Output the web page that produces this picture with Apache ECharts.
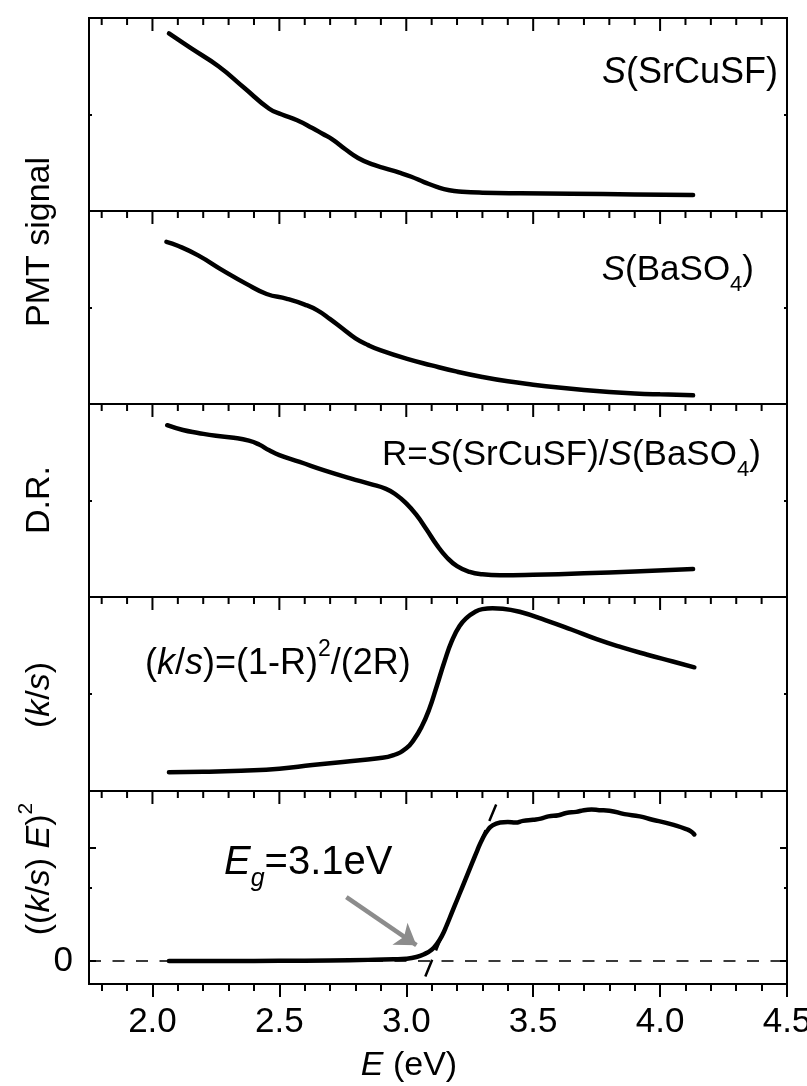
<!DOCTYPE html>
<html>
<head>
<meta charset="utf-8">
<script src="https://cdn.jsdelivr.net/npm/echarts@6/dist/echarts.min.js"></script>
<style>
  html, body { margin: 0; padding: 0; background: #fff; }
  #chart { width: 807px; height: 1086px; }
</style>
</head>
<body>
<div id="chart"></div>
<script>
// ---- shared energy axis ----
const xMajorTicks = [2.0, 2.5, 3.0, 3.5, 4.0, 4.5];
const xTickLabels = ['2.0', '2.5', '3.0', '3.5', '4.0', '4.5'];
const xMinorTicks = [1.8, 1.9, 2.1, 2.2, 2.3, 2.4, 2.6, 2.7, 2.8, 2.9, 3.1, 3.2, 3.3, 3.4,
                     3.6, 3.7, 3.8, 3.9, 4.1, 4.2, 4.3, 4.4];
const X_MIN = 1.75, X_MAX = 4.5;
const X_MAJOR_START = 2.0, X_MAJOR_STEP = 0.5;
const X_MINOR_START = 1.8, X_MINOR_STEP = 0.1;

// ---- panel 1: S(SrCuSF) ----
const srcusfE = [2.065, 2.15, 2.26, 2.36, 2.46, 2.51, 2.57, 2.63, 2.67, 2.71, 2.76, 2.81, 2.87,
                 2.92, 2.97, 3.02, 3.07, 3.12, 3.17, 3.22, 3.30, 3.45, 3.65, 3.90, 4.13];
const srcusfS = [1.84, 1.69, 1.50, 1.28, 1.06, 1.00, 0.94, 0.86, 0.80, 0.74, 0.64, 0.55, 0.48,
                 0.44, 0.40, 0.355, 0.30, 0.25, 0.215, 0.20, 0.19, 0.183, 0.178, 0.172, 0.166];

// ---- panel 2: S(BaSO4) ----
const baso4E = [2.055, 2.10, 2.18, 2.28, 2.37, 2.45, 2.53, 2.60, 2.65, 2.70, 2.75, 2.80, 2.85,
                2.90, 3.0, 3.1, 3.2, 3.3, 3.4, 3.5, 3.6, 3.7, 3.8, 3.9, 4.0, 4.13];
const baso4S = [1.68, 1.64, 1.54, 1.38, 1.245, 1.14, 1.09, 1.03, 0.97, 0.88, 0.78, 0.68, 0.61,
                0.555, 0.47, 0.40, 0.335, 0.28, 0.235, 0.20, 0.17, 0.145, 0.125, 0.11, 0.10, 0.09];

// ---- panel 3: diffuse reflectance R ----
const drE = [2.058, 2.12, 2.18, 2.25, 2.32, 2.38, 2.42, 2.46, 2.50, 2.58, 2.68, 2.78, 2.86, 2.92,
             2.96, 3.0, 3.04, 3.08, 3.12, 3.16, 3.20, 3.25, 3.30, 3.37, 3.5, 3.7, 3.9, 4.13];
const drR = [1.78, 1.73, 1.70, 1.67, 1.65, 1.62, 1.58, 1.52, 1.47, 1.40, 1.31, 1.23, 1.17, 1.12,
             1.06, 0.97, 0.85, 0.70, 0.54, 0.41, 0.32, 0.26, 0.235, 0.225, 0.23, 0.245, 0.265, 0.29];

// ---- panel 4: Kubelka-Munk function k/s ----
const ksE = [2.065, 2.2, 2.35, 2.5, 2.63, 2.75, 2.89, 2.95, 3.0, 3.03, 3.06, 3.09, 3.12, 3.15,
             3.18, 3.21, 3.24, 3.27, 3.30, 3.34, 3.38, 3.45, 3.55, 3.65, 3.75, 3.85, 3.95, 4.05,
             4.135];
const ksV = [0.193, 0.198, 0.21, 0.23, 0.268, 0.30, 0.337, 0.37, 0.44, 0.53, 0.66, 0.84, 1.08,
             1.33, 1.55, 1.70, 1.79, 1.845, 1.875, 1.885, 1.88, 1.845, 1.76, 1.665, 1.565, 1.48,
             1.405, 1.335, 1.275];

// ---- panel 5: ((k/s) E)^2 with band-gap extrapolation ----
const taucE = [2.065, 2.3, 2.5, 2.7, 2.85, 2.95, 3.0, 3.04, 3.07, 3.10, 3.12, 3.14, 3.16, 3.18,
               3.20, 3.22, 3.24, 3.26, 3.28, 3.30, 3.32, 3.34, 3.37, 3.40, 3.43, 3.46, 3.50,
               3.53, 3.56, 3.60, 3.63, 3.67, 3.70, 3.73, 3.76, 3.80, 3.86, 3.92, 3.97, 4.02,
               4.06, 4.10, 4.12, 4.135];
const taucV = [0, 0, 0.002, 0.005, 0.01, 0.015, 0.02, 0.035, 0.06, 0.10, 0.15, 0.22, 0.32, 0.43,
               0.54, 0.65, 0.76, 0.87, 0.98, 1.08, 1.155, 1.20, 1.225, 1.23, 1.225, 1.24, 1.25,
               1.26, 1.28, 1.29, 1.31, 1.32, 1.335, 1.34, 1.335, 1.33, 1.30, 1.28, 1.25, 1.225,
               1.20, 1.17, 1.15, 1.12];
const EG = 3.1;                 // band gap from the linear extrapolation
const tangentSlope = 5.45;      // slope of the fitted edge
const tangentE = [3.075, 3.355];
const yTickLabels5 = ['0'];

// ---- layout ----
const FONT = '"Liberation Sans", Arial, sans-serif';
const GRID_LEFT = 89, GRID_RIGHT_EDGE = 787;
const MAJOR_LEN = 13, MINOR_LEN = 7;
const PANELS = [
  { top: 18,  height: 193, yMin: 0, yMax: 2, yMajor: null, yMinor: [1] },
  { top: 211, height: 193, yMin: 0, yMax: 2, yMajor: null, yMinor: [1] },
  { top: 404, height: 193, yMin: 0, yMax: 2, yMajor: null, yMinor: [1] },
  { top: 597, height: 194, yMin: 0, yMax: 2, yMajor: null, yMinor: [1] },
  { top: 791, height: 193, yMin: -0.2035, yMax: 1.5045, yMajor: [0, 1], yMinor: [0.65], yLabel: [0] }
];
const pxOf = v => GRID_LEFT + (v - X_MIN) / (X_MAX - X_MIN) * (GRID_RIGHT_EDGE - GRID_LEFT);

const grids = [], xAxes = [], yAxes = [], series = [];
const tickStyle = () => ({ color: '#000', width: 2 });

function addGrid(left, top, height, show) {
  grids.push({
    left, width: GRID_RIGHT_EDGE - left, top, height,
    show, borderColor: '#000', borderWidth: 2,
    outerBoundsMode: 'none'
  });
  return grids.length - 1;
}

// x axis at the bottom of a grid; its ticks hang downwards
function addX(gridIndex, min, step, len, withLabels) {
  const ax = {
    gridIndex, position: 'bottom', type: 'value', min, max: X_MAX, z: 10,
    splitLine: { show: false }, axisLine: { show: false, onZero: false },
    axisTick: step ? { show: true, inside: false, length: len, lineStyle: tickStyle() } : { show: false },
    axisLabel: withLabels ? {
      show: true, margin: 21, fontSize: 35, fontFamily: FONT, color: '#000',
      showMinLabel: true, showMaxLabel: true,
      formatter: v => xTickLabels[Math.round((v - X_MAJOR_START) / X_MAJOR_STEP)] || ''
    } : { show: false }
  };
  if (step) ax.interval = step;
  xAxes.push(ax);
  return xAxes.length - 1;
}

function addY(gridIndex, position, min, max, values, len, labelValues) {
  if (!values && !labelValues) {
    yAxes.push({ gridIndex, position, type: 'value', min, max, show: false });
    return yAxes.length - 1;
  }
  yAxes.push({
    gridIndex, position, type: 'value', min, max, z: 10,
    splitLine: { show: false }, axisLine: { show: false, onZero: false },
    axisTick: values ? { show: true, inside: true, length: len, customValues: values, lineStyle: tickStyle() }
                     : { show: false },
    axisLabel: labelValues ? {
      show: true, customValues: labelValues, margin: 16,
      fontSize: 35, fontFamily: FONT, color: '#000',
      formatter: v => {
        const k = labelValues.findIndex(t => Math.abs(t - v) < 1e-6);
        return k >= 0 ? yTickLabels5[k] : '';
      }
    } : { show: false }
  });
  return yAxes.length - 1;
}

const mainX = [], mainY = [];
PANELS.forEach(p => {
  // framed panel holding the data, with long y ticks
  const g = addGrid(GRID_LEFT, p.top, p.height, true);
  mainX.push(addX(g, X_MIN, null, 0, false));
  mainY.push(addY(g, 'left', p.yMin, p.yMax, p.yMajor, 7, p.yLabel || null));
  addY(g, 'right', p.yMin, p.yMax, p.yMajor, 7, null);

  // twin panel with the short y ticks
  const t = addGrid(GRID_LEFT, p.top, p.height, false);
  addX(t, X_MIN, null, 0, false);
  addY(t, 'left', p.yMin, p.yMax, p.yMinor, 3, null);
  addY(t, 'right', p.yMin, p.yMax, p.yMinor, 3, null);
});

// labelled energy axis under the last panel: long and short ticks hanging down
const bottomEdge = PANELS[4].top + PANELS[4].height;
const gM = addGrid(pxOf(X_MAJOR_START), bottomEdge - 10, 10, false);
addX(gM, X_MAJOR_START, X_MAJOR_STEP, MAJOR_LEN, true);
addY(gM, 'left', 0, 1, null, 0, null);
const gm = addGrid(pxOf(X_MINOR_START), bottomEdge - 10, 10, false);
addX(gm, X_MINOR_START, X_MINOR_STEP, MINOR_LEN, false);
addY(gm, 'left', 0, 1, null, 0, null);

// energy ticks hanging from the top frame line of each panel, drawn as short
// vertical segments in the panel's own coordinates ('-' breaks the polyline)
PANELS.forEach((p, i) => {
  const span = p.yMax - p.yMin;
  const segs = (ticks, len) => {
    const d = len / p.height * span;
    const out = [];
    ticks.forEach(v => { out.push([v, p.yMax], [v, p.yMax - d], [v, '-']); });
    return out;
  };
  [[xMajorTicks, MAJOR_LEN], [xMinorTicks, MINOR_LEN]].forEach(([ticks, len]) => {
    series.push({
      type: 'line', xAxisIndex: mainX[i], yAxisIndex: mainY[i], silent: true, z: 6,
      data: segs(ticks, len), connectNulls: false, showSymbol: false, smooth: false,
      lineStyle: { color: '#000', width: 2, cap: 'butt' }
    });
  });
});

function curve(panel, xs, ys, extra) {
  return Object.assign({
    type: 'line', xAxisIndex: mainX[panel], yAxisIndex: mainY[panel],
    data: xs.map((x, k) => [x, ys[k]]),
    showSymbol: false, smooth: 0.5, silent: true,
    lineStyle: { color: '#000', width: 4.5, cap: 'round', join: 'round' }, z: 3
  }, extra || {});
}

series.push(curve(0, srcusfE, srcusfS));
series.push(curve(1, baso4E, baso4S));
series.push(curve(2, drE, drR));
series.push(curve(3, ksE, ksV));
series.push(curve(4, taucE, taucV, {
  markLine: {
    silent: true, symbol: 'none', label: { show: false }, z: 2,
    lineStyle: { color: '#3a3a3a', width: 2, type: [12, 11.5] },
    data: [{ yAxis: 0 }]
  }
}));

// linear extrapolation of the absorption edge, crossing zero at EG
series.push({
  type: 'line', xAxisIndex: mainX[4], yAxisIndex: mainY[4], silent: true, z: 4,
  data: tangentE.map(e => [e, tangentSlope * (e - EG)]),
  showSymbol: false, lineStyle: { color: '#000', width: 2.5, type: [18, 10] },
  markLine: {
    silent: true, label: { show: false }, z: 5,
    symbol: ['none', 'arrow'], symbolSize: 20,
    lineStyle: { color: '#8c8c8c', width: 4.5, type: 'solid' },
    data: [[{ coord: [2.764, 0.566] }, { coord: [3.04, 0.14] }]]
  }
});

// ---- text ----
const tok = (size, italic, lh, va) => ({
  fontFamily: FONT, fontSize: size, fontStyle: italic ? 'italic' : 'normal',
  fill: '#000', lineHeight: lh, verticalAlign: va
});
function richSet(size) {
  const small = Math.round(size * 0.63);
  const lh = Math.round(size * 1.45);
  return {
    n: tok(size, false, lh, 'middle'),
    i: tok(size, true, lh, 'middle'),
    sub: tok(small, false, small, 'bottom'),
    isub: tok(small, true, small, 'bottom'),
    sup: tok(small, false, small, 'top')
  };
}
function label(text, x, y, align, size, rotate) {
  return {
    type: 'text', x, y, rotation: rotate ? Math.PI / 2 : 0, silent: true, z: 10,
    style: { text, rich: richSet(size), align, verticalAlign: 'middle',
             fontFamily: FONT, fontSize: size, fill: '#000' }
  };
}

const graphic = [
  label('{i|S}{n|(SrCuSF)}', 778, 73, 'right', 36),
  label('{i|S}{n|(BaSO}{sub|4}{n|)}', 754, 270, 'right', 35),
  label('{n|R=}{i|S}{n|(SrCuSF)/}{i|S}{n|(BaSO}{sub|4}{n|)}', 382, 455, 'left', 35),
  label('{n|(}{i|k}{n|/}{i|s}{n|)=(1-R)}{sup|2}{n|/(2R)}', 145, 664, 'left', 36),
  label('{i|E}{isub|g}{n|=' + EG.toFixed(1) + 'eV}', 224, 863, 'left', 40),
  label('{i|E}{n| (eV)}', 409, 1066, 'center', 34),
  label('{n|PMT signal}', 40, 242, 'center', 34, true),
  label('{n|D.R.}', 40, 500, 'center', 34, true),
  label('{n|(}{i|k}{n|/}{i|s}{n|)}', 40, 695, 'center', 34, true),
  label('{n|((}{i|k}{n|/}{i|s}{n|) }{i|E}{n|)}{sup|2}', 40, 869, 'center', 34, true)
];

const chart = echarts.init(document.getElementById('chart'), null, { renderer: 'canvas' });
chart.setOption({
  animation: false,
  backgroundColor: '#fff',
  grid: grids, xAxis: xAxes, yAxis: yAxes, series, graphic
});
</script>
</body>
</html>
